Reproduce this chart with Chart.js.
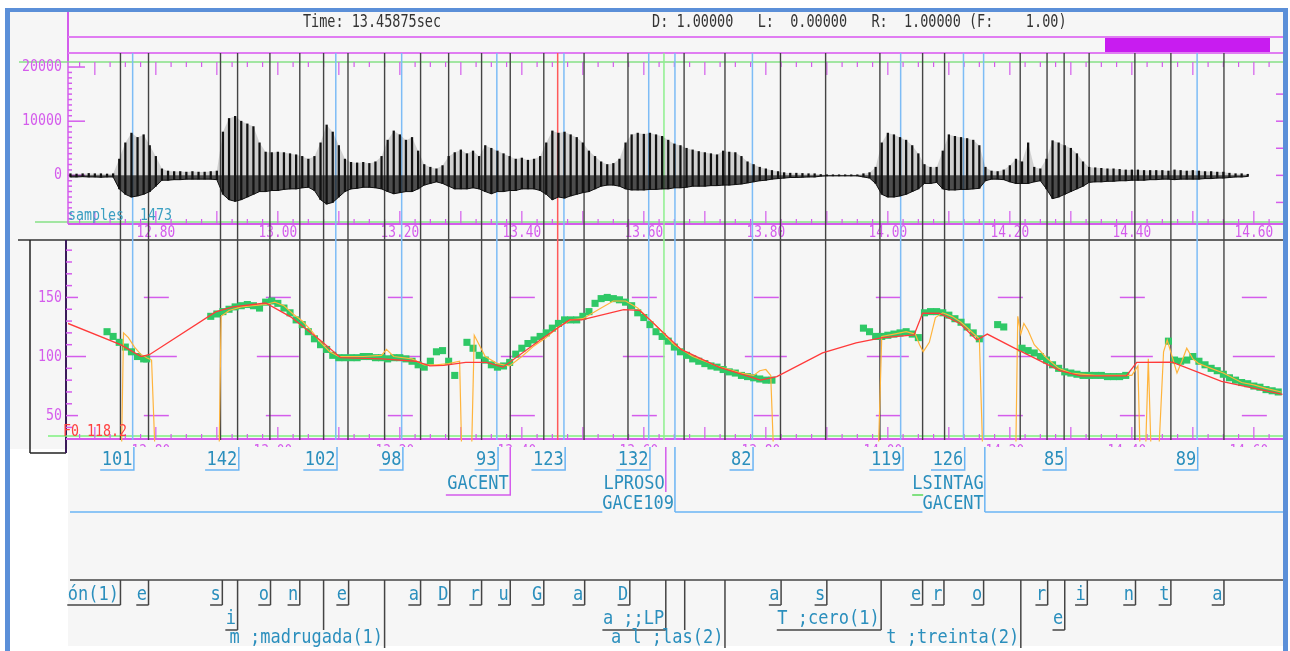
<!DOCTYPE html>
<html>
<head>
<meta charset="utf-8">
<script src="https://cdn.jsdelivr.net/npm/chart.js@4.4.0/dist/chart.umd.min.js"></script>
<style>
  html, body { margin: 0; padding: 0; background: #fff; overflow: hidden; }
  #wrap { width: 1290px; height: 651px; position: relative; }
</style>
</head>
<body>
<div id="wrap"><canvas id="c"></canvas></div>
<script>
// waveform envelope, one [lo, hi] pair every 10 ms from 12.66 s
const waveStart = 12.66;
const waveStep = 0.01;
const waveHi = [
  300, 250, 300, 350, 300, 300, 250, 300,
  3000, 6000, 7800, 7000, 7500, 5500, 3500, 1200,
  800, 700, 700, 600, 700, 600, 600, 700, 800,
  8000, 10500, 10900, 10000, 9500, 9000, 6000, 4300,
  4200, 4300, 4200, 4000, 3800, 3500, 3000, 3500,
  6000, 9300, 8000, 5500, 3000, 2400, 2300, 2400,
  2200, 2500, 3500, 6500, 8200, 7500, 6500, 7000,
  4500, 2000, 1500, 1200, 1800, 3500, 4200, 4700,
  4000, 4500, 3500, 5500, 5000, 4500, 4000, 3500,
  3000, 3200, 2800, 3000, 3500, 6000, 8200, 7800,
  8000, 7500, 7000, 6000, 4500, 3500, 2500, 2000,
  2200, 3000, 6000, 7500, 7800, 7600, 7800, 7500,
  7200, 6500, 5800, 5500, 5000, 4700, 4400, 4200,
  4000, 3800, 4500, 4300, 4200, 3500, 2500, 2000,
  1500, 1200, 900, 700, 500, 400, 400, 350,
  300, 300, 150, 100, 100, 100, 100, 100,
  100, 300, 500, 1500, 6000, 7800, 7500, 7000,
  6500, 5500, 4000, 2000, 1500, 1500, 4500, 7500,
  7200, 7000, 6800, 6500, 5500, 1500, 800, 700,
  1000, 1800, 3000, 2500, 6000, 1500, 1200, 3000,
  6400, 6000, 5500, 5000, 4000, 2500, 1500, 1400,
  1300, 1200, 1200, 1100, 1000, 1000, 1000, 900,
  900, 900, 900, 800, 1000, 900, 800, 900,
  800, 700, 700, 600, 600, 400, 300, 300,
  200
];
const waveLo = [
  -300, -300, -250, -300, -300, -350, -300, -300,
  -2500, -3500, -4000, -3800, -3500, -3000, -2000, -900,
  -900, -800, -800, -700, -700, -700, -700, -700, -800,
  -3500, -4500, -4800, -4500, -4000, -3500, -3000, -3000,
  -2800, -2800, -2600, -2500, -2500, -2300, -2200, -2800,
  -4500, -5300, -5000, -4000, -3000, -2500, -2400, -2200,
  -2200, -2300, -2500, -3000, -3400, -3200, -3000, -3000,
  -2500, -1800, -1500, -1200, -1500, -2000, -2500, -2500,
  -2500, -2300, -2500, -3000, -3400, -3000, -3000, -2800,
  -2800, -2500, -2500, -2500, -2800, -3500, -4500, -4000,
  -4200, -3800, -3500, -3200, -3000, -2500, -2000, -1800,
  -1800, -2000, -2500, -2700, -2700, -2700, -2600, -2600,
  -2500, -2500, -2300, -2300, -2200, -2000, -2000, -2000,
  -1900, -1900, -1800, -1800, -1700, -1600, -1400, -1200,
  -1000, -900, -700, -600, -500, -400, -400, -350,
  -300, -300, -150, -100, -100, -100, -100, -100,
  -100, -300, -500, -1500, -3500, -4000, -4000, -3800,
  -3500, -3000, -2500, -1500, -1500, -1300, -2500, -2700,
  -2700, -2600, -2600, -2500, -2400, -1000, -700, -700,
  -800, -1200, -1500, -1500, -1500, -1200, -1000, -2500,
  -4300, -4000, -3500, -3000, -2500, -2000, -1300, -1200,
  -1200, -1100, -1100, -1000, -1000, -900, -900, -900,
  -800, -800, -700, -700, -800, -700, -700, -700,
  -700, -600, -600, -500, -500, -400, -300, -300,
  -200
];
const waveTimes = waveHi.map((_, i) => +(waveStart + i * waveStep).toFixed(2));

// stylised F0 contour (red), [time s, Hz]
const contourF0 = [
  [12.656, 128], [12.742, 110], [12.776, 100], [12.790, 101.7], [12.898, 137.8], [12.926, 142],
  [12.980, 145.3], [13.021, 133.6], [13.069, 114], [13.103, 99], [13.171, 98], [13.226, 96],
  [13.249, 92], [13.272, 92.5], [13.308, 95], [13.342, 95], [13.369, 91], [13.430, 114],
  [13.478, 131], [13.498, 131], [13.567, 139.7], [13.593, 139], [13.610, 131], [13.661, 106],
  [13.723, 91], [13.791, 80], [13.818, 83], [13.893, 103], [13.948, 111.6], [13.989, 115.8],
  [14.043, 118.3], [14.057, 136.6], [14.084, 136.6], [14.118, 128], [14.146, 114], [14.163, 119],
  [14.206, 107.5], [14.282, 88], [14.316, 83.6], [14.391, 83.6], [14.408, 95], [14.466, 95.3],
  [14.547, 79], [14.647, 68]
];

// raw F0 track (orange), null breaks the line
const rawF0 = [
  [12.744, 28], [12.747, 120], [12.755, 116], [12.765, 108], [12.775, 102], [12.785, 99], [12.793, 97], [12.798, 28],
  [12.80, null],
  [12.904, 28], [12.907, 134], [12.92, 139], [12.94, 142], [12.96, 143], [12.98, 144], [12.995, 146], [13.01, 143],
  [13.025, 136], [13.04, 130], [13.055, 122], [13.07, 112], [13.085, 104], [13.10, 100], [13.14, 100], [13.17, 101],
  [13.178, 106], [13.19, 100], [13.22, 98], [13.24, 93], [13.26, 93], [13.28, 94], [13.298, 96], [13.301, 28],
  [13.31, null],
  [13.318, 28], [13.322, 118], [13.33, 110], [13.34, 100], [13.36, 94], [13.38, 92], [13.40, 100], [13.42, 109],
  [13.44, 116], [13.46, 125], [13.48, 131], [13.50, 132], [13.53, 141], [13.55, 147], [13.57, 147], [13.59, 141],
  [13.62, 126], [13.65, 110], [13.68, 100], [13.72, 92], [13.76, 86], [13.78, 84], [13.79, 88], [13.80, 89],
  [13.808, 84], [13.812, 28],
  [13.9, null],
  [13.985, 28], [13.99, 117], [14.01, 119], [14.03, 121], [14.045, 119], [14.052, 110], [14.058, 104], [14.068, 112],
  [14.078, 133], [14.09, 137], [14.105, 134], [14.12, 129], [14.135, 122], [14.15, 115], [14.155, 28],
  [14.18, null],
  [14.21, 28], [14.213, 134], [14.218, 119], [14.223, 128], [14.23, 122], [14.24, 110], [14.26, 99], [14.28, 90],
  [14.30, 86], [14.34, 84], [14.40, 84], [14.41, 92], [14.413, 28],
  [14.418, null],
  [14.423, 28], [14.427, 98], [14.431, 28],
  [14.44, null],
  [14.445, 28], [14.452, 104], [14.458, 114], [14.466, 100], [14.474, 86], [14.482, 96], [14.49, 107], [14.50, 98],
  [14.51, 94], [14.53, 90], [14.55, 86], [14.58, 78], [14.60, 76], [14.62, 73], [14.645, 70]
];

// smoothed F0 points (green squares)
const smoothF0 = [
  [12.72, 121], [12.73, 117], [12.74, 112], [12.75, 108], [12.76, 104], [12.77, 100], [12.78, 98], [12.785, 98],
  [12.89, 134], [12.90, 136], [12.91, 138], [12.92, 140], [12.93, 142], [12.94, 143], [12.95, 144], [12.96, 143],
  [12.97, 141], [12.98, 146], [12.99, 147], [13.00, 145], [13.01, 141], [13.02, 137], [13.03, 131], [13.04, 127],
  [13.05, 121], [13.06, 115], [13.07, 110], [13.08, 106], [13.09, 101], [13.10, 99], [13.11, 99], [13.12, 99],
  [13.13, 99], [13.14, 100], [13.15, 100], [13.16, 99], [13.17, 99], [13.18, 98], [13.19, 99], [13.20, 99],
  [13.21, 98], [13.22, 96], [13.23, 93], [13.24, 91], [13.25, 96], [13.26, 104], [13.27, 105], [13.28, 96],
  [13.29, 84], [13.31, 112], [13.32, 107], [13.33, 101], [13.34, 97], [13.35, 93], [13.36, 91], [13.37, 92],
  [13.38, 95], [13.39, 102], [13.40, 107], [13.41, 111], [13.42, 114], [13.43, 117], [13.44, 120], [13.45, 124],
  [13.46, 128], [13.47, 131], [13.48, 131], [13.49, 131], [13.50, 134], [13.51, 138], [13.52, 145], [13.53, 149],
  [13.54, 150], [13.55, 149], [13.56, 148], [13.57, 146], [13.58, 143], [13.59, 137], [13.60, 133], [13.61, 127],
  [13.62, 121], [13.63, 117], [13.64, 113], [13.65, 108], [13.66, 104], [13.67, 101], [13.68, 98], [13.69, 96],
  [13.70, 94], [13.71, 92], [13.72, 91], [13.73, 89], [13.74, 87], [13.75, 86], [13.76, 84], [13.77, 83],
  [13.78, 82], [13.79, 81], [13.80, 80], [13.81, 80],
  [13.96, 124], [13.97, 121], [13.98, 117], [13.99, 117], [14.00, 118], [14.01, 119], [14.02, 120], [14.03, 121],
  [14.04, 119], [14.05, 116], [14.06, 137], [14.07, 138], [14.08, 138], [14.09, 137], [14.10, 135], [14.11, 132],
  [14.12, 129], [14.13, 125], [14.14, 120], [14.15, 115],
  [14.18, 127], [14.19, 125],
  [14.22, 107], [14.23, 105], [14.24, 103], [14.25, 100], [14.26, 97], [14.27, 93], [14.28, 90], [14.29, 87],
  [14.30, 86], [14.31, 85], [14.32, 84], [14.33, 84], [14.34, 84], [14.35, 84], [14.36, 83], [14.37, 83],
  [14.38, 83], [14.39, 84],
  [14.46, 113], [14.47, 97], [14.48, 96], [14.49, 97], [14.50, 100], [14.51, 96], [14.52, 93], [14.53, 90],
  [14.54, 88], [14.55, 85], [14.56, 82], [14.57, 80], [14.58, 78], [14.59, 77], [14.60, 75], [14.61, 74],
  [14.62, 72], [14.63, 71], [14.64, 70]
];

// segment boundaries (s)
const blackBounds = [12.742, 12.788, 12.906, 12.934, 12.987, 13.036, 13.075, 13.115, 13.175, 13.234,
  13.280, 13.334, 13.381, 13.436, 13.502, 13.574, 13.666, 13.733, 13.824, 13.898, 13.987, 14.057,
  14.093, 14.217, 14.261, 14.289, 14.330, 14.405, 14.464, 14.551];
const blueBounds = [12.762, 13.095, 13.203, 13.359, 13.469, 13.608, 13.651, 13.778, 14.021, 14.124, 14.157, 14.507];
const cursorTime = 13.45875;
const greenMark = 13.633;

// tonal labels (right edge time)
const toneLabels = ['101', '142', '102', '98', '93', '123', '132', '82', '119', '126', '85', '89'];
const toneTimes = [12.764, 12.936, 13.097, 13.205, 13.361, 13.471, 13.610, 13.779, 14.025, 14.126, 14.292, 14.508];

// phrase tier
const groupLabels = ['GACENT', 'LPROSO', 'GACE109', 'LSINTAG', 'GACENT'];
const groupTimes = [13.381, 13.636, 13.651, 14.159, 14.159];

// phone tier: label, right boundary, level
const phoneLabels = ['ón(1)', 'e', 's', 'i', 'o', 'n', '', 'e', 'm ;madrugada(1)', 'a', 'D', 'r', 'u', 'G', 'a', 'D',
  'a ;;LP', '', 'a l ;las(2)', 'a', 's', 'T ;cero(1)', 'e', 'r', 'o', 't ;treinta(2)', 'r', 'e', 'i', 'n', 't', 'a'];
const phoneTimes = [12.742, 12.788, 12.909, 12.934, 12.988, 13.036, 13.075, 13.116, 13.175, 13.234, 13.282, 13.334,
  13.381, 13.436, 13.503, 13.577, 13.636, 13.667, 13.733, 13.825, 13.900, 13.989, 14.057, 14.092, 14.157, 14.218,
  14.262, 14.290, 14.327, 14.406, 14.464, 14.551];
const phoneLevel = [0, 0, 0, 1, 0, 0, 1, 0, 2, 0, 0, 0, 0, 0, 0, 0, 1, 1, 2, 0, 0, 1, 0, 0, 0, 2, 0, 1, 0, 0, 0, 0];

const MONO = '"DejaVu Sans Mono", "Liberation Mono", monospace';
const MAG = '#d45cec';
const TEAL = '#2b8fbd';
const L = 68, R = 1283;

function txt(ctx, s, x, y, size, color, align, sy) {
  ctx.save();
  ctx.font = size + 'px ' + MONO;
  ctx.fillStyle = color;
  ctx.textAlign = align || 'left';
  ctx.textBaseline = 'middle';
  ctx.translate(x, y);
  ctx.scale(1, sy || 1.2);
  ctx.fillText(s, 0, 0);
  ctx.restore();
}
function line(ctx, x1, y1, x2, y2, color, w) {
  ctx.beginPath();
  ctx.strokeStyle = color;
  ctx.lineWidth = w || 1;
  ctx.moveTo(x1, y1);
  ctx.lineTo(x2, y2);
  ctx.stroke();
}
function textWidth(ctx, s, size) {
  ctx.save();
  ctx.font = size + 'px ' + MONO;
  const w = ctx.measureText(s).width;
  ctx.restore();
  return w;
}
function timeTicks(scale) {
  const out = [];
  for (let k = Math.ceil(scale.min / 0.025); k * 0.025 <= scale.max; k++) out.push(k);
  return out;
}

const decor = {
  id: 'decor',
  beforeDatasetsDraw(chart) {
    const ctx = chart.ctx, X = chart.scales.x, YW = chart.scales.yW, YP = chart.scales.yP;
    const px = t => X.getPixelForValue(t);
    ctx.save();
    // backgrounds and frame
    ctx.fillStyle = '#fff';
    ctx.fillRect(0, 0, 1290, 651);
    ctx.fillStyle = '#f6f6f6';
    ctx.fillRect(10, 12, R - 10, 437);
    ctx.fillRect(L, 449, R - L, 197);
    ctx.fillStyle = '#5b8fd8';
    ctx.fillRect(5, 8, 1283, 4);
    ctx.fillRect(5, 8, 5, 643);
    ctx.fillRect(1283, 8, 5, 643);

    // header
    txt(ctx, 'Time: 13.45875sec', 372, 23, 13.5, '#333', 'center', 1.25);
    txt(ctx, 'D: 1.00000   L:  0.00000   R:  1.00000 (F:    1.00)', 652, 23, 13.5, '#333', 'left', 1.25);
    line(ctx, L, 12, L, 62, MAG, 2);
    line(ctx, L, 37, R, 37, '#e07cf2', 2);
    line(ctx, L, 53, R, 53, '#e07cf2', 2);
    ctx.fillStyle = '#c81cf0';
    ctx.fillRect(1105, 38, 165, 14);

    const ticks = timeTicks(X);
    // waveform panel axes
    line(ctx, 19, 62, R, 62, '#86e086', 1.5);
    line(ctx, 35, 222, R, 222, '#86e086', 1.5);
    line(ctx, L, 224, R, 224, MAG, 2);
    line(ctx, L, 62, L, 224, MAG, 1.5);
    for (let v = -9000; v <= 20000; v += 1000) {
      const y = YW.getPixelForValue(v);
      line(ctx, L, y, v % 10000 === 0 ? 85 : 72, y, MAG, 1.5);
    }
    for (let v = -5000; v <= 15000; v += 5000) {
      const y = YW.getPixelForValue(v);
      line(ctx, R - 7, y, R, y, MAG, 1.5);
    }
    [20000, 10000, 0].forEach(v => txt(ctx, String(v), 62, YW.getPixelForValue(v), 13.3, MAG, 'right', 1.2));
    ticks.forEach(k => {
      const x = px(k * 0.025), big = k % 4 === 0;
      line(ctx, x, 62, x, big ? 75 : 67, MAG, 1.2);
      line(ctx, x, 224, x, big ? 211 : 219, MAG, 1.2);
      if (k % 8 === 0) txt(ctx, (k * 0.025).toFixed(2), x, 233, 12.8, MAG, 'center', 1.2);
    });
    line(ctx, 18, 240, R, 240, '#333', 1.5);

    // pitch panel axes
    line(ctx, 30, 240, 30, 453, '#222', 1.5);
    line(ctx, 30, 453, 66, 453, '#222', 1.5);
    line(ctx, 66, 240, 66, 453, '#3a1a5a', 2);
    for (let v = 40; v <= 190; v += 10) {
      const y = YP.getPixelForValue(v);
      line(ctx, 66, y, v === 100 ? 86 : (v % 50 === 0 ? 78 : 72), y, MAG, 1.5);
    }
    [150, 100, 50].forEach(v => txt(ctx, String(v), 62, YP.getPixelForValue(v), 13.3, MAG, 'right', 1.2));
    ticks.filter(k => k % 8 === 0).forEach(k => {
      const x = px(k * 0.025);
      [150, 50].forEach(v => {
        const y = YP.getPixelForValue(v);
        line(ctx, x - 12, y, Math.min(x + 13, R), y, MAG, 1.5);
      });
      const y = YP.getPixelForValue(100);
      line(ctx, x - 21, y, Math.min(x + 21, R), y, MAG, 1.5);
    });
    line(ctx, 48, 436, R, 436, '#7ef07e', 1.5);
    line(ctx, 66, 439, R, 439, MAG, 2);
    ticks.forEach(k => {
      const x = px(k * 0.025);
      line(ctx, x, 439, x, k % 4 === 0 ? 427 : 434, MAG, 1.2);
    });

    // boundaries
    blackBounds.forEach(t => line(ctx, px(t), 53, px(t), 440, '#444', 1.4));
    blueBounds.forEach(t => line(ctx, px(t), 53, px(t), 440, '#7dbcf6', 1.5));
    line(ctx, px(cursorTime), 53, px(cursorTime), 440, '#ff5a5a', 1.5);
    line(ctx, px(greenMark), 53, px(greenMark), 440, '#8ef08e', 1.5);
    ctx.restore();
  },
  afterDatasetsDraw(chart) {
    const ctx = chart.ctx, X = chart.scales.x;
    const px = t => X.getPixelForValue(t);
    ctx.save();
    txt(ctx, 'samples  1473', 68, 216, 13.3, '#3a9fc2', 'left', 1.2);
    txt(ctx, 'F0 118.2', 63, 432, 13.3, '#ff4040', 'left', 1.2);

    // pitch time labels, mostly hidden under the tier area
    ctx.save();
    ctx.beginPath();
    ctx.rect(L, 440, R - L, 7);
    ctx.clip();
    timeTicks(X).filter(k => k % 8 === 0).forEach(k => {
      txt(ctx, (k * 0.025).toFixed(2), px(k * 0.025) - 5, 452, 12.8, MAG, 'center', 1.2);
    });
    ctx.restore();

    // tonal tier
    toneLabels.forEach((s, i) => {
      const x = px(toneTimes[i]);
      const w = textWidth(ctx, s, 17);
      txt(ctx, s, x - 1.5, 460, 17, TEAL, 'right', 1.1);
      ctx.beginPath();
      ctx.strokeStyle = '#6ab4f4';
      ctx.lineWidth = 1.5;
      ctx.moveTo(x, 447);
      ctx.lineTo(x, 470);
      ctx.lineTo(x - w - 3, 470);
      ctx.stroke();
    });

    // phrase tier
    const g = groupTimes.map(px);
    const gw = groupLabels.map(s => textWidth(ctx, s, 17));
    txt(ctx, groupLabels[0], g[0] - 1.5, 484, 17, TEAL, 'right', 1.1);
    ctx.beginPath();
    ctx.strokeStyle = MAG;
    ctx.lineWidth = 1.5;
    ctx.moveTo(g[0], 447);
    ctx.lineTo(g[0], 495);
    ctx.lineTo(g[0] - gw[0] - 3, 495);
    ctx.stroke();
    txt(ctx, groupLabels[1], g[1] - 1, 484, 17, TEAL, 'right', 1.1);
    line(ctx, g[1], 447, g[1], 492, MAG, 1.5);
    txt(ctx, groupLabels[2], g[2] - 1, 504, 17, TEAL, 'right', 1.1);
    line(ctx, g[2], 447, g[2], 512, '#6ab4f4', 1.5);
    line(ctx, 70, 512, g[2] - gw[2] - 1, 512, '#6ab4f4', 1.5);
    txt(ctx, groupLabels[3], g[3] - 1, 484, 17, TEAL, 'right', 1.1);
    line(ctx, g[3] - gw[3] - 1, 495, g[3] - gw[3] + 10, 495, '#5ad85a', 1.5);
    txt(ctx, groupLabels[4], g[4] - 1, 504, 17, TEAL, 'right', 1.1);
    line(ctx, g[4], 447, g[4], 512, '#6ab4f4', 1.5);
    line(ctx, g[2], 512, g[4] - gw[4] - 1, 512, '#6ab4f4', 1.5);
    line(ctx, g[4], 512, R, 512, '#6ab4f4', 1.5);

    // phone tier
    line(ctx, 70, 580, R, 580, '#444', 1.5);
    const rowY = [595, 619, 638], rowEnd = [605, 630, 648];
    phoneLabels.forEach((s, i) => {
      const x = px(phoneTimes[i]), r = phoneLevel[i];
      if (s) txt(ctx, s, x - 1.5, rowY[r], 17, TEAL, 'right', 1.1);
      line(ctx, x, 580, x, rowEnd[r], '#444', 1.5);
      if (s && r < 2) {
        const w = textWidth(ctx, s, 17);
        line(ctx, x - w - 2, rowEnd[r], x, rowEnd[r], '#444', 1.5);
      }
    });
    ctx.restore();
  }
};

const pts = arr => arr.map(p => ({ x: p[0], y: p[1] }));

new Chart(document.getElementById('c'), {
  type: 'bar',
  data: {
    datasets: [
      { type: 'line', label: 'contour', data: pts(contourF0), yAxisID: 'yP', borderColor: '#ff3a3a',
        borderWidth: 1.3, pointRadius: 0, order: 0 },
      { type: 'line', label: 'raw F0', data: pts(rawF0), yAxisID: 'yP', borderColor: '#ffb43c',
        borderWidth: 1.2, pointRadius: 0, spanGaps: false, order: 1 },
      { type: 'scatter', label: 'smoothed', data: pts(smoothF0), yAxisID: 'yP', pointStyle: 'rect',
        pointRadius: 5, backgroundColor: '#2fc866', borderWidth: 0, order: 2 },
      { type: 'bar', label: 'wave', data: waveHi.map((h, i) => ({ x: waveTimes[i], y: [waveLo[i], h] })),
        yAxisID: 'yW', backgroundColor: '#111', barThickness: 1.6, order: 3 },
      { type: 'line', label: 'wave upper', data: waveHi.map((v, i) => ({ x: waveTimes[i], y: v })), yAxisID: 'yW',
        borderWidth: 0, backgroundColor: 'rgba(20,20,20,0.16)', fill: 'origin', pointRadius: 0, order: 4 },
      { type: 'line', label: 'wave lower', data: waveLo.map((v, i) => ({ x: waveTimes[i], y: v })), yAxisID: 'yW',
        borderColor: '#111', borderWidth: 1, backgroundColor: 'rgba(20,20,20,0.75)', fill: 'origin',
        pointRadius: 0, order: 5 }
    ]
  },
  options: {
    responsive: true,
    maintainAspectRatio: false,
    animation: false,
    events: [],
    layout: { padding: { left: L, right: 1290 - R, top: 0, bottom: 0 } },
    plugins: { legend: { display: false }, tooltip: { enabled: false } },
    scales: {
      x: { type: 'linear', min: 12.656, max: 12.656 + (R - L) / 610, offset: false, display: false },
      yW: { type: 'linear', min: -86909, max: 31455, display: false },
      yP: { type: 'linear', min: -145, max: 397.5, display: false }
    }
  },
  plugins: [decor]
});
</script>
</body>
</html>
